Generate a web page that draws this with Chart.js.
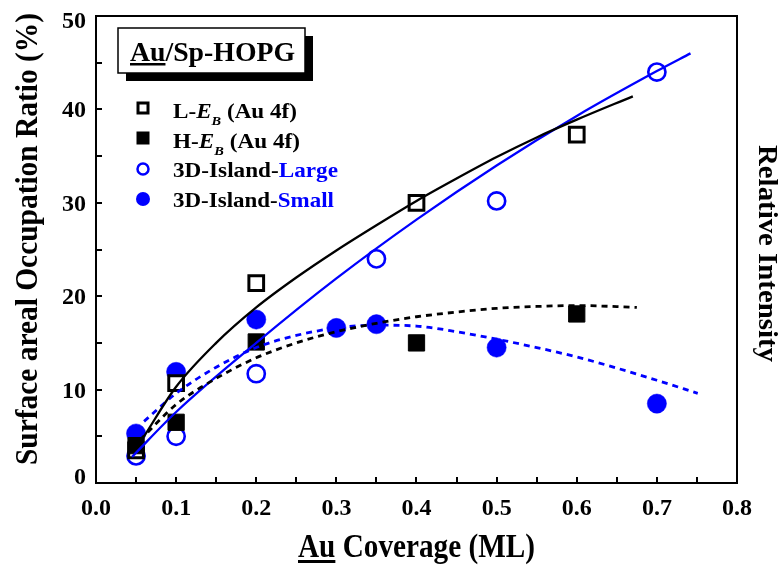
<!DOCTYPE html>
<html>
  <head>
    <title>Au/Sp-HOPG occupation ratio</title>
    <script src="https://cdn.jsdelivr.net/npm/chart.js"></script>
    <style>
      html,
      body {
        margin: 0;
        padding: 0;
        background: #fff;
      }
      canvas {
        display: block;
      }
    </style>
  </head>
  <body>
    <canvas id="coverageChart" width="779" height="565"></canvas>
    <script>
      // measured points (Au coverage in ML, occupation ratio in %)
      const coverageLEb = [0.05, 0.1, 0.2, 0.4, 0.6];
      const ratioLEb = [3.5, 10.7, 21.4, 30.0, 37.3];
      const coverageHEb = [0.05, 0.1, 0.2, 0.4, 0.6];
      const ratioHEb = [4.0, 6.5, 15.1, 15.0, 18.1];
      const coverageLarge = [0.05, 0.1, 0.2, 0.35, 0.5, 0.7];
      const ratioLarge = [2.9, 5.0, 11.7, 24.0, 30.2, 44.0];
      const coverageSmall = [0.05, 0.1, 0.2, 0.3, 0.35, 0.5, 0.7];
      const ratioSmall = [5.3, 11.9, 17.5, 16.6, 17.0, 14.5, 8.5];

      // fitted guide curves
      const fitLEbX = [0.06, 0.1, 0.15, 0.2, 0.25, 0.3, 0.35, 0.4, 0.45, 0.5, 0.55, 0.6, 0.67];
      const fitLEbY = [5.0, 10.3, 15.0, 18.8, 22.0, 24.9, 27.6, 30.2, 32.6, 34.9, 37.0, 38.9, 41.4];
      const fitHEbX = [0.055, 0.1, 0.15, 0.2, 0.25, 0.3, 0.35, 0.4, 0.45, 0.5, 0.55, 0.6, 0.675];
      const fitHEbY = [4.6, 8.4, 11.2, 13.4, 15.0, 16.2, 17.1, 17.8, 18.3, 18.7, 18.9, 19.0, 18.8];
      const fitLargeX = [0.045, 0.1, 0.2, 0.3, 0.4, 0.5, 0.6, 0.7, 0.742];
      const fitLargeY = [2.8, 7.6, 15.0, 21.9, 28.2, 34.0, 39.3, 44.1, 46.0];
      const fitSmallX = [0.06, 0.1, 0.15, 0.2, 0.25, 0.3, 0.35, 0.4, 0.45, 0.5, 0.55, 0.6, 0.65, 0.7, 0.751];
      const fitSmallY = [6.6, 9.6, 12.4, 14.5, 15.8, 16.6, 16.9, 16.8, 16.2, 15.4, 14.5, 13.5, 12.3, 11.0, 9.6];

      // axis ticks
      const xTickValues = [0, 0.1, 0.2, 0.3, 0.4, 0.5, 0.6, 0.7, 0.8];
      const xTickLabels = ["0.0", "0.1", "0.2", "0.3", "0.4", "0.5", "0.6", "0.7", "0.8"];
      const yTickValues = [0, 10, 20, 30, 40, 50];
      const yTickLabels = ["0", "10", "20", "30", "40", "50"];

      const SERIF = '"Liberation Serif", "Times New Roman", serif';
      const BLUE = "#0000ff";

      const pts = (xs, ys) => xs.map((x, i) => ({ x: x, y: ys[i] }));

      function curve(xs, ys, color, dashed) {
        return {
          data: pts(xs, ys),
          showLine: true,
          borderColor: color,
          borderWidth: dashed ? 2.8 : 2.3,
          borderDash: dashed ? [6, 5] : [],
          pointRadius: 0,
          cubicInterpolationMode: "monotone",
          fill: false,
        };
      }

      // draws a row of text runs, squeezed to a given width
      function drawRuns(ctx, runs, x, y, width, align) {
        let natural = 0;
        runs.forEach((r) => {
          ctx.font = r.font;
          r.w = ctx.measureText(r.text).width;
          natural += r.w;
        });
        const sx = width ? width / natural : 1;
        ctx.save();
        ctx.translate(x, y);
        ctx.scale(sx, 1);
        ctx.textAlign = "left";
        ctx.textBaseline = "alphabetic";
        let cx = align === "center" ? -natural / 2 : 0;
        runs.forEach((r) => {
          ctx.font = r.font;
          ctx.fillStyle = r.color || "#000";
          ctx.fillText(r.text, cx, r.dy || 0);
          if (r.underline) ctx.fillRect(cx, r.underline[0], r.w, r.underline[1]);
          cx += r.w;
        });
        ctx.restore();
      }

      const decorPlugin = {
        id: "decor",
        afterDraw(chart) {
          const ctx = chart.ctx;
          const a = chart.chartArea;
          const xs = chart.scales.x;
          const ys = chart.scales.y;
          ctx.save();

          // inward ticks on bottom and left
          ctx.strokeStyle = "#000";
          ctx.lineWidth = 2;
          ctx.beginPath();
          for (let v = 0.05; v < 0.8; v += 0.05) {
            const px = Math.round(xs.getPixelForValue(v));
            ctx.moveTo(px, a.bottom);
            ctx.lineTo(px, a.bottom - 6);
          }
          for (let v = 5; v < 50; v += 5) {
            const py = Math.round(ys.getPixelForValue(v));
            ctx.moveTo(a.left, py);
            ctx.lineTo(a.left + 6, py);
          }
          ctx.stroke();

          // frame
          ctx.strokeRect(a.left, a.top, a.right - a.left, a.bottom - a.top);

          // tick labels
          ctx.fillStyle = "#000";
          ctx.font = "bold 24px " + SERIF;
          ctx.textAlign = "center";
          ctx.textBaseline = "alphabetic";
          xTickValues.forEach((v, i) => {
            ctx.fillText(xTickLabels[i], xs.getPixelForValue(v), 515);
          });
          ctx.textAlign = "right";
          yTickValues.forEach((v, i) => {
            const cy = Math.min(476, Math.max(20, ys.getPixelForValue(v)));
            ctx.fillText(yTickLabels[i], 86, cy + 8);
          });

          // axis titles
          const bigFont = "bold 34px " + SERIF;
          drawRuns(
            ctx,
            [
              { text: "Au", font: bigFont, underline: [3, 3] },
              { text: " Coverage (ML)", font: bigFont },
            ],
            416.5, 557, 237, "center"
          );

          ctx.save();
          ctx.translate(37, 239);
          ctx.rotate(-Math.PI / 2);
          drawRuns(
            ctx,
            [{ text: "Surface areal Occupation Ratio (%)", font: "bold 31px " + SERIF }],
            0, 0, 452, "center"
          );
          ctx.restore();

          ctx.save();
          ctx.translate(759, 253.5);
          ctx.rotate(Math.PI / 2);
          drawRuns(
            ctx,
            [{ text: "Relative Intensity", font: "bold 27px " + SERIF }],
            0, 0, 217, "center"
          );
          ctx.restore();

          // sample label box with shadow
          ctx.fillStyle = "#000";
          ctx.fillRect(126, 36, 187, 45);
          ctx.fillStyle = "#fff";
          ctx.fillRect(118, 28, 187, 45);
          ctx.lineWidth = 1.5;
          ctx.strokeRect(118, 28, 187, 45);
          const boxFont = "bold 28px " + SERIF;
          drawRuns(
            ctx,
            [
              { text: "Au", font: boxFont, underline: [2, 2.5] },
              { text: "/Sp-HOPG", font: boxFont },
            ],
            130, 61, 165
          );

          // legend
          const B = "bold 21px " + SERIF;
          const BI = "italic bold 21px " + SERIF;
          const SUB = "italic bold 13px " + SERIF;
          const mx = 143;
          ctx.lineWidth = 3;
          ctx.strokeStyle = "#000";
          ctx.fillStyle = "#fff";
          ctx.fillRect(mx - 5, 103, 10, 10);
          ctx.strokeRect(mx - 5, 103, 10, 10);
          ctx.fillStyle = "#000";
          ctx.fillRect(mx - 6.5, 131.5, 13, 13);
          ctx.lineWidth = 2.5;
          ctx.strokeStyle = BLUE;
          ctx.beginPath();
          ctx.arc(mx, 169, 5.5, 0, Math.PI * 2);
          ctx.stroke();
          ctx.fillStyle = BLUE;
          ctx.beginPath();
          ctx.arc(mx, 199, 7, 0, Math.PI * 2);
          ctx.fill();

          drawRuns(ctx, [
            { text: "L-", font: B },
            { text: "E", font: BI },
            { text: "B", font: SUB, dy: 7 },
            { text: " (Au 4f)", font: B },
          ], 173, 117.5, 124);
          drawRuns(ctx, [
            { text: "H-", font: B },
            { text: "E", font: BI },
            { text: "B", font: SUB, dy: 7 },
            { text: " (Au 4f)", font: B },
          ], 173, 147.5, 127);
          drawRuns(ctx, [
            { text: "3D-Island-", font: B },
            { text: "Large", font: B, color: BLUE },
          ], 173, 177, 165);
          drawRuns(ctx, [
            { text: "3D-Island-", font: B },
            { text: "Small", font: B, color: BLUE },
          ], 173, 206.5, 161);

          ctx.restore();
        },
      };

      new Chart(document.getElementById("coverageChart"), {
        type: "scatter",
        data: {
          datasets: [
            curve(fitLEbX, fitLEbY, "#000", false),
            curve(fitHEbX, fitHEbY, "#000", true),
            curve(fitLargeX, fitLargeY, BLUE, false),
            curve(fitSmallX, fitSmallY, BLUE, true),
            {
              label: "H-EB (Au 4f)",
              data: pts(coverageHEb, ratioHEb),
              pointStyle: "rect",
              pointRadius: 11.5,
              pointBorderWidth: 1,
              pointBackgroundColor: "#000",
              pointBorderColor: "#000",
            },
            {
              label: "L-EB (Au 4f)",
              data: pts(coverageLEb, ratioLEb),
              pointStyle: "rect",
              pointRadius: 10.4,
              pointBorderWidth: 3,
              pointBackgroundColor: "#fff",
              pointBorderColor: "#000",
            },
            {
              label: "3D-Island-Small",
              data: pts(coverageSmall, ratioSmall),
              pointStyle: "circle",
              pointRadius: 9.6,
              pointBorderWidth: 0.5,
              pointBackgroundColor: BLUE,
              pointBorderColor: BLUE,
            },
            {
              label: "3D-Island-Large",
              data: pts(coverageLarge, ratioLarge),
              pointStyle: "circle",
              pointRadius: 8.6,
              pointBorderWidth: 2.6,
              pointBackgroundColor: "rgba(255,255,255,0)",
              pointBorderColor: BLUE,
            },
          ],
        },
        options: {
          responsive: false,
          animation: false,
          events: [],
          layout: { padding: { top: 16, left: 0, right: 0, bottom: 0 } },
          plugins: { legend: { display: false }, tooltip: { enabled: false } },
          scales: {
            x: {
              type: "linear",
              min: 0,
              max: 0.8,
              ticks: { display: false },
              grid: { display: false },
              border: { display: false },
              afterFit(scale) {
                scale.height = 82;
              },
            },
            y: {
              position: "left",
              min: 0,
              max: 50,
              ticks: { display: false },
              grid: { display: false },
              border: { display: false },
              afterFit(scale) {
                scale.width = 96;
              },
            },
            y2: {
              position: "right",
              min: 0,
              max: 1,
              ticks: { display: false },
              grid: { display: false },
              border: { display: false },
              afterFit(scale) {
                scale.width = 42;
              },
            },
          },
        },
        plugins: [decorPlugin],
      });
    </script>
  </body>
</html>
